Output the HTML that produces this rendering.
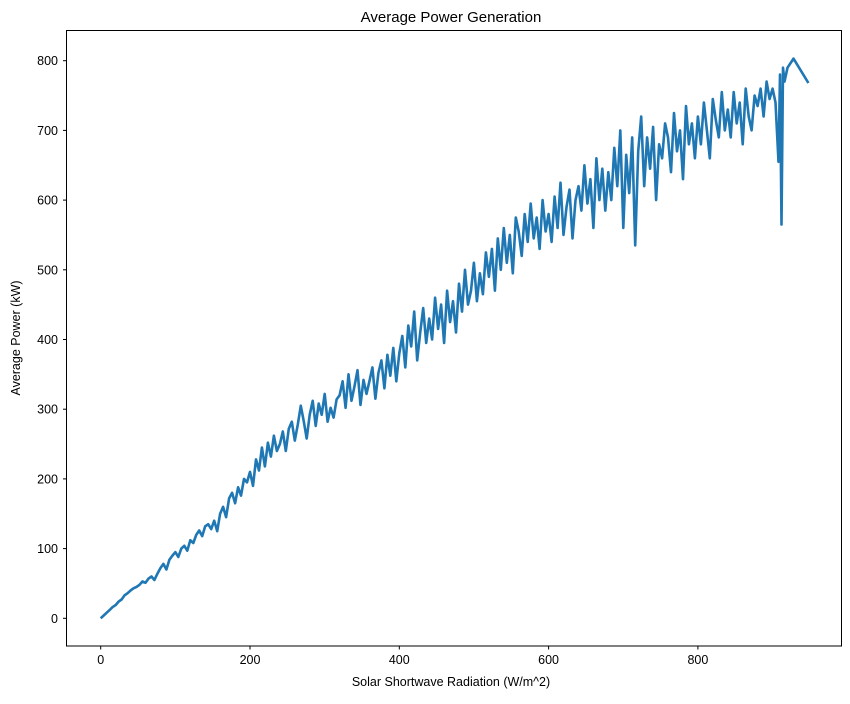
<!DOCTYPE html>
<html><head><meta charset="utf-8"><style>
body{margin:0;background:#fff;}
svg text{font-family:"Liberation Sans","DejaVu Sans",sans-serif;fill:#000;}
</style></head><body>
<svg id="chart" width="850" height="699" xmlns="http://www.w3.org/2000/svg">
<rect width="850" height="699" fill="#fff"/>
<text x="451" y="22" font-size="15" text-anchor="middle">Average Power Generation</text>
<text x="451" y="686" font-size="12.5" text-anchor="middle">Solar Shortwave Radiation (W/m^2)</text>
<text x="20" y="338" font-size="12.5" text-anchor="middle" transform="rotate(-90 20 338)">Average Power (kW)</text>
<g id="ticks"></g>
<path id="line" fill="none" stroke="#1f77b4" stroke-width="2.6" stroke-linejoin="round"/>
<rect x="66.5" y="30.5" width="775" height="615.5" fill="none" stroke="#000" stroke-width="1"/>
</svg>
<script>
const xTicks=[0,200,400,600,800];
const yTicks=[0,100,200,300,400,500,600,700,800];
const xs=[0,4,8,12,16,20,24,28,32,36,40,44,48,52,56,60,64,68,72,76,80,84,88,92,96,100,104,108,112,116,120,124,128,132,136,140,144,148,152,156,160,164,168,172,176,180,184,188,192,196,200,204,208,212,216,220,224,228,232,236,240,244,248,252,256,260,264,268,272,276,280,284,288,292,296,300,304,308,312,316,320,324,328,332,336,340,344,348,352,356,360,364,368,372,376,380,384,388,392,396,400,404,408,412,416,420,424,428,432,436,440,444,448,452,456,460,464,468,472,476,480,484,488,492,496,500,504,508,512,516,520,524,528,532,536,540,544,548,552,556,560,564,568,572,576,580,584,588,592,596,600,604,608,612,616,620,624,628,632,636,640,644,648,652,656,660,664,668,672,676,680,684,688,692,696,700,704,708,712,716,720,724,728,732,736,740,744,748,752,756,760,764,768,772,776,780,784,788,792,796,800,804,808,812,816,820,824,828,832,836,840,844,848,852,856,860,864,868,872,876,880,884,888,892,896,900,904,908,910,912,914,916,920,928,948];
const ys=[0,4,8,12,16,19,24,27,33,36,
40,43,45,48,53,51,57,60,55,64,
72,78,70,84,90,95,88,100,104,97,
112,108,120,126,118,132,135,128,140,125,
150,160,145,172,180,165,188,176,200,195,
210,190,228,212,245,218,252,232,262,240,
250,268,240,272,282,255,278,305,283,258,
292,312,276,308,292,322,282,302,288,314,
320,340,302,350,312,333,356,306,342,322,
340,360,315,352,370,330,378,348,388,340,
380,405,360,420,390,440,370,410,445,395,
430,400,460,415,450,395,470,425,455,410,
480,440,500,450,470,510,455,495,465,525,
490,530,470,545,500,560,510,550,495,575,
555,520,580,540,595,545,575,530,600,555,
580,540,605,560,625,550,590,615,545,600,
620,585,650,595,630,560,660,600,645,585,
640,600,675,620,700,560,665,610,690,535,
670,720,620,690,645,705,600,680,660,710,
690,640,725,670,700,630,735,680,710,660,
720,680,740,700,660,745,715,690,755,700,
730,690,755,710,740,680,760,720,700,750,
735,760,720,770,745,760,740,655,780,565,790,770,790,803,768];
const X=v=>100.7+v*0.7465;
const Y=v=>618.3-v*0.697;
const g=document.getElementById('ticks');
const NS='http://www.w3.org/2000/svg';
xTicks.forEach(t=>{
  const l=document.createElementNS(NS,'line');
  l.setAttribute('x1',X(t));l.setAttribute('x2',X(t));l.setAttribute('y1',646);l.setAttribute('y2',649.5);l.setAttribute('stroke','#000');
  
  
  g.appendChild(l);
  const tx=document.createElementNS(NS,'text');
  tx.setAttribute('x',X(t));tx.setAttribute('y',664);tx.setAttribute('font-size','12.5');tx.setAttribute('text-anchor','middle');
  tx.textContent=t;
  
  
  g.appendChild(tx);
});
yTicks.forEach(t=>{
  const l=document.createElementNS(NS,'line');
  l.setAttribute('x1',63);l.setAttribute('x2',66.5);l.setAttribute('y1',Y(t));l.setAttribute('y2',Y(t));l.setAttribute('stroke','#000');
  
  
  g.appendChild(l);
  const tx=document.createElementNS(NS,'text');
  tx.setAttribute('x',58);tx.setAttribute('y',Y(t)+4.5);tx.setAttribute('font-size','12.5');tx.setAttribute('text-anchor','end');
  tx.textContent=t;
  
  
  g.appendChild(tx);
});
let d='';
xs.forEach((x,i)=>{d+=(i?'L':'M')+X(x).toFixed(1)+' '+Y(ys[i]).toFixed(1)+' ';});
document.getElementById('line').setAttribute('d',d);
</script>
</body></html>
